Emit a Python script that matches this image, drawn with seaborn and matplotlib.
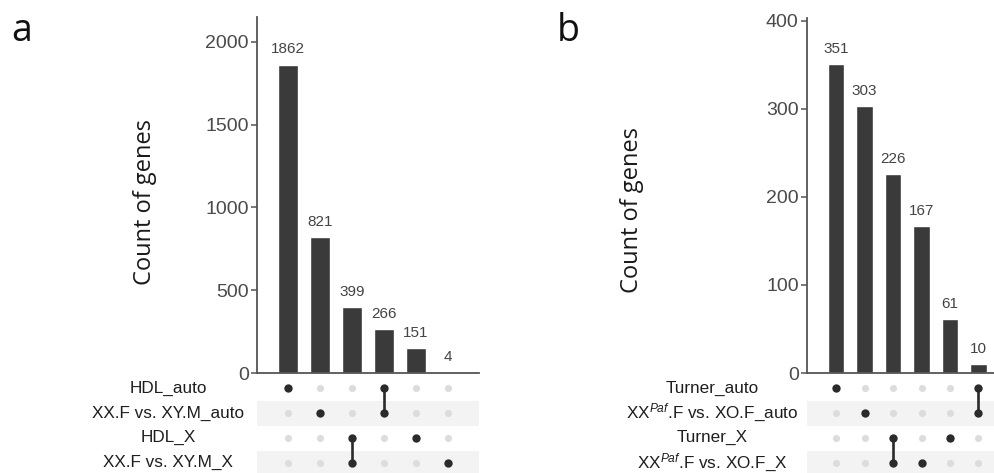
import numpy as np
import pandas as pd
import matplotlib
matplotlib.use("Agg")
import matplotlib.pyplot as plt
import seaborn as sns

sns.set_theme(style="white")
plt.rcParams['font.family'] = ['Liberation Sans', 'DejaVu Sans']
plt.rcParams['mathtext.fontset'] = 'custom'
plt.rcParams['mathtext.rm'] = 'Liberation Sans'
plt.rcParams['mathtext.it'] = 'Liberation Sans:italic'

# ---------------- data ----------------
sets_a = ["HDL_auto", "XX.F vs. XY.M_auto", "HDL_X", "XX.F vs. XY.M_X"]
counts_a = [1862, 821, 399, 266, 151, 4]
members_a = [[0], [1], [2, 3], [0, 1], [2], [3]]
yticks_a = [0, 500, 1000, 1500, 2000]

sets_b = ["Turner_auto", r"XX$^{Paf}$.F vs. XO.F_auto", "Turner_X", r"XX$^{Paf}$.F vs. XO.F_X"]
counts_b = [351, 303, 226, 167, 61, 10]
members_b = [[0], [1], [2, 3], [3], [2], [0, 1]]
yticks_b = [0, 100, 200, 300, 400]

W, H = 995, 473
fig = plt.figure(figsize=(W / 100, H / 100), dpi=100)

BAR_COLOR = "#3a3a3a"
AXIS_COLOR = "#555555"
TICK_TEXT = "#4a4a4a"


def fr(x0, y0, x1, y1):
    return [x0 / W, (H - y1) / H, (x1 - x0) / W, (y1 - y0) / H]


def panel(left, right, top, xlim, ylim, counts, members, sets, yticks, width,
          ylabel_x, ylabel_y, letter, letter_xy, label_cx):
    n = len(counts)
    ax = fig.add_axes(fr(left, top, right, 373))
    df = pd.DataFrame({"pos": [str(i) for i in range(n)], "count": counts})
    sns.barplot(data=df, x="pos", y="count", color=BAR_COLOR, width=width,
                saturation=1, ax=ax)
    ax.set_xlim(*xlim)
    ax.set_ylim(*ylim)
    ax.set_xticks([])
    ax.set_yticks(yticks)
    ax.set_yticklabels([str(t) for t in yticks], fontsize=14, color=TICK_TEXT)
    ax.tick_params(axis="y", length=4, width=1.1, color=AXIS_COLOR, pad=2, left=True)
    ax.set_xlabel("")
    ax.set_ylabel("")
    for s in ["top", "right"]:
        ax.spines[s].set_visible(False)
    for s in ["left", "bottom"]:
        ax.spines[s].set_color(AXIS_COLOR)
        ax.spines[s].set_linewidth(1.3)
    for i, c in enumerate(counts):
        ax.annotate(str(c), (i, c), xytext=(0, 6), textcoords="offset points",
                    ha="center", va="bottom", fontsize=11, color="#444444")
    fig.text(ylabel_x / W, 1 - ylabel_y / H, "Count of genes", rotation=90,
             ha="center", va="center", fontsize=17, family="Open Sans",
             color="#1a1a1a")
    fig.text(letter_xy[0] / W, 1 - letter_xy[1] / H, letter, ha="left",
             va="baseline", fontsize=27, family="Open Sans", color="#111111")

    # matrix
    mx = fig.add_axes(fr(left, 375.5, right, 475.5))
    mx.set_xlim(*xlim)
    mx.set_ylim(len(sets) - 0.5, -0.5)
    mx.axis("off")
    for r in range(len(sets)):
        if r % 2 == 1:
            mx.axhspan(r - 0.5, r + 0.5, color="#f3f3f3", zorder=0, lw=0)
    grid = pd.DataFrame([(i, r) for i in range(n) for r in range(len(sets))],
                        columns=["col", "row"])
    sns.scatterplot(data=grid, x="col", y="row", color="#dcdcdc", s=26,
                    linewidth=0, ax=mx, zorder=2, legend=False)
    act = pd.DataFrame([(i, r) for i, m in enumerate(members) for r in m],
                       columns=["col", "row"])
    for i, m in enumerate(members):
        if len(m) > 1:
            mx.plot([i, i], [min(m), max(m)], color="#2b2b2b", lw=1.9, zorder=3,
                    solid_capstyle="butt")
    sns.scatterplot(data=act, x="col", y="row", color="#2b2b2b", s=36,
                    linewidth=0, ax=mx, zorder=4, legend=False)
    mx.set_xlim(*xlim)
    mx.set_ylim(len(sets) - 0.5, -0.5)
    mx.set_xlabel("")
    mx.set_ylabel("")
    rows_px = [388, 413, 437.5, 462.5]
    for r, name in enumerate(sets):
        fig.text(label_cx / W, 1 - rows_px[r] / H, name, ha="center",
                 va="center", fontsize=12.3, color="#1e1e1e")


panel(257, 479, 17, (-0.97, 5.97), (0, 2151), counts_a, members_a, sets_a,
      yticks_a, 0.6, 145, 202, "a", (11, 41), 168)
panel(807, 995, 18, (-1.02, 5.58), (0, 403.4), counts_b, members_b, sets_b,
      yticks_b, 0.57, 632, 210, "b", (557, 41), 712)

fig.savefig("out.png", dpi=100)
